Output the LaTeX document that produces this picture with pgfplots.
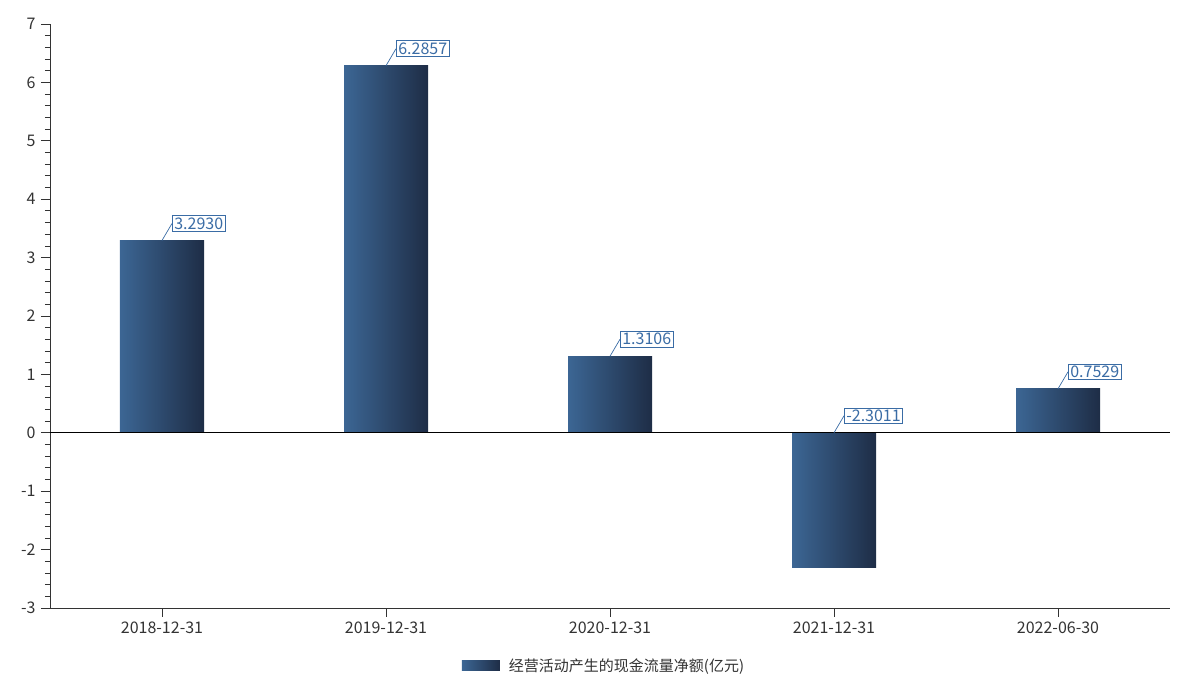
\documentclass[border=0pt]{standalone}
\usepackage{pgfplots}
\pgfplotsset{compat=1.18}
\usepackage{fontspec}
\setmainfont{Noto Sans CJK SC}
\definecolor{barL}{RGB}{60,102,148}
\definecolor{barR}{RGB}{30,45,70}
\definecolor{lblue}{RGB}{58,108,165}
\definecolor{txt}{RGB}{51,51,51}
\begin{document}
\begin{tikzpicture}
\begin{axis}[
  scale only axis,
  width=1120pt, height=584pt,
  xmin=-0.5, xmax=4.5,
  ymin=-3, ymax=7,
  axis x line*=bottom, axis y line*=left,
  axis line style={txt, line width=0.8pt},
  tick align=outside,
  xtick={0,1,2,3,4},
  xticklabels={2018-12-31,2019-12-31,2020-12-31,2021-12-31,2022-06-30},
  ytick={-3,-2,...,7},
  minor y tick num=4,
  major tick length=9pt,
  minor tick length=5pt,
  tick style={txt, line width=0.8pt},
  x tick label style={yshift=-1pt},
  ticklabel style={font=\fontsize{16}{18}\selectfont, text=txt},
  /pgf/number format/assume math mode=true,
  yticklabel style={xshift=-2pt},
  legend style={at={(0.5,0)}, anchor=center, yshift=-58pt, xshift=-6pt, draw=none,
     font=\fontsize{15}{17}\selectfont, text=txt,
     /tikz/every even column/.append style={column sep=0pt}},
  legend image code/.code={\shade[left color=barL, right color=barR] (0pt,-5pt) rectangle (38pt,5pt); \path (45pt,0pt);},
  bar width=84pt,
  mybar/.style={ybar, draw=none, left color=barL, right color=barR},
  clip=false,
]
\addplot[mybar] coordinates {(0,3.2930)};
\addlegendentry{经营活动产生的现金流量净额(亿元)}
\addplot[mybar, forget plot] coordinates {(1,6.2857)};
\addplot[mybar, forget plot] coordinates {(2,1.3106)};
\addplot[mybar, forget plot] coordinates {(3,-2.3011)};
\addplot[mybar, forget plot] coordinates {(4,0.7529)};
\addplot[black, line width=0.8pt, forget plot] coordinates {(-0.5,0) (4.5,0)};
\addplot[only marks, mark=none, forget plot,
  point meta=explicit symbolic,
  nodes near coords,
  every node near coord/.style={anchor=west, xshift=10pt, yshift=17pt,
     draw=lblue, line width=0.7pt, text=lblue, fill=white,
     inner sep=2pt, font=\fontsize{16}{18}\selectfont,
     append after command={(\tikzlastnode.west) edge[draw=lblue, line width=0.7pt] ++(-10pt,-17pt)}},
] table[meta=l] {
x y l
0 3.2930 3.2930
1 6.2857 6.2857
2 1.3106 1.3106
3 0 -2.3011
4 0.7529 0.7529
};
\end{axis}
\path[use as bounding box] (-50pt,-79pt) rectangle (1143pt,608pt);
\end{tikzpicture}
\end{document}
